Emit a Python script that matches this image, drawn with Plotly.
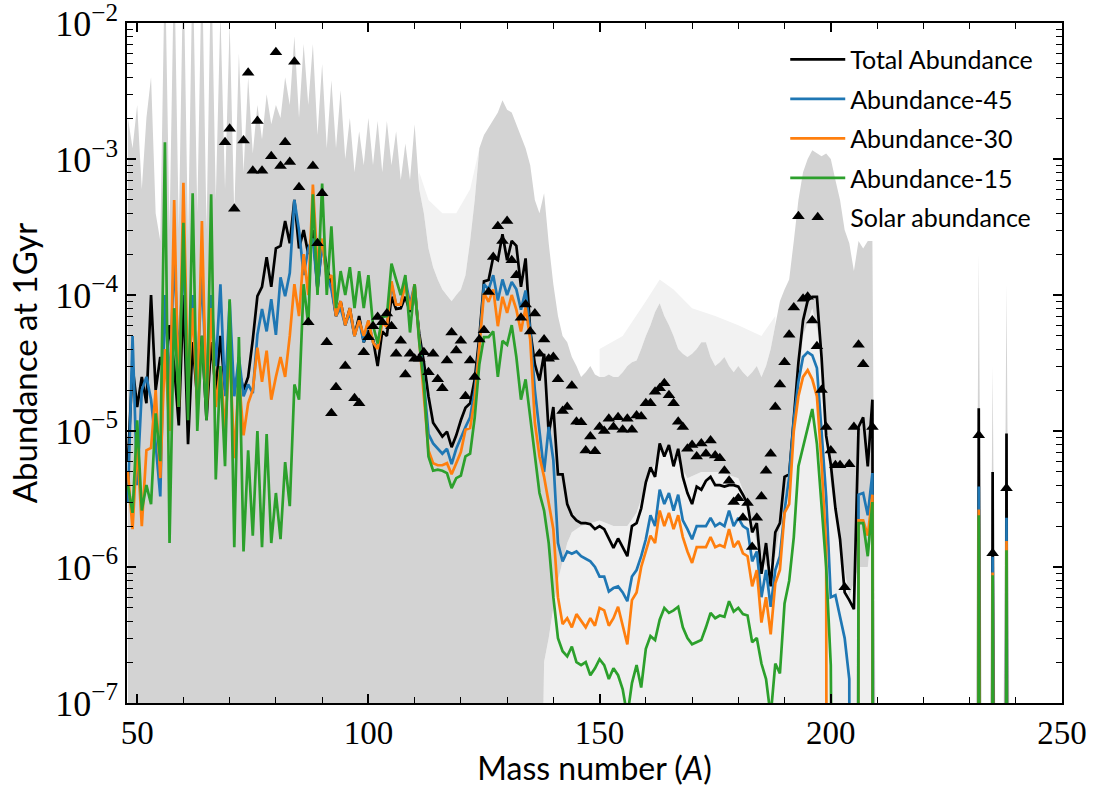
import plotly.graph_objects as go

# ---------------- data ----------------
mass_number = list(range(48, 210)) + [210, 231, 232, 233, 234, 235, 236, 237, 238, 239]

total_abundance = [
    6e-6, 3e-5, 1.5e-5, 2.5e-5, 1.6e-5, 1.0e-4, 2.0e-5, 3.5e-5, 2.5e-5, 6e-5,
    3.0e-5, 1.1e-5, 1.0e-4, 8e-6, 4.5e-5, 1.7e-5, 5e-5, 1.2e-5, 4.5e-5, 2.0e-5,
    5e-5, 2e-5, 4e-5, 2e-5, 2.8e-5, 2.0e-5, 2.5e-5, 4.7e-5, 9.8e-5, 1.15e-4,
    1.9e-4, 1.15e-4, 2.2e-4, 2.3e-4, 3.5e-4, 2.4e-4, 5.0e-4, 2.2e-4, 3.0e-4, 2.0e-4,
    3.0e-4, 1.1e-4, 2.5e-4, 1.6e-4, 1.2e-4, 7e-5, 9e-5, 6e-5, 8e-5, 5e-5,
    7e-5, 4.5e-5, 5.5e-5, 4.7e-5, 3.0e-5, 5.4e-5, 5.0e-5, 9.7e-5, 7.9e-5, 8.0e-5,
    9.7e-5, 7.5e-5, 1.08e-4, 5.2e-5, 3.2e-5, 1.8e-5, 1.15e-5, 1.02e-5, 9.1e-6, 9.9e-6,
    7.6e-6, 9.3e-6, 1.2e-5, 1.48e-5, 1.6e-5, 2.4e-5, 4.9e-5, 1.26e-4, 1.29e-4, 1.9e-4,
    1.8e-4, 2.8e-4, 1.8e-4, 2.5e-4, 2.3e-4, 1.15e-4, 1.86e-4, 5.5e-5, 3.1e-5, 2.35e-5,
    3.7e-5, 9.5e-6, 1.5e-5, 4.8e-6, 4.8e-6, 2.9e-6, 2.4e-6, 2.2e-6, 2.1e-6, 2.1e-6,
    2.06e-6, 1.9e-6, 2.0e-6, 1.9e-6, 1.6e-6, 1.38e-6, 1.62e-6, 1.4e-6, 1.2e-6, 2.0e-6,
    2.1e-6, 2.7e-6, 4.2e-6, 5.4e-6, 4.6e-6, 8.1e-6, 6.5e-6, 7.9e-6, 5.5e-6, 7.4e-6,
    4.6e-6, 3.5e-6, 2.9e-6, 3.9e-6, 3.7e-6, 4.3e-6, 4.6e-6, 4.0e-6, 4.0e-6, 3.9e-6,
    4.0e-6, 4.0e-6, 3.9e-6, 3.4e-6, 2.9e-6, 1.8e-6, 2.1e-6, 8.9e-7, 1.5e-6, 7.2e-7,
    1.8e-6, 2.1e-6, 4.6e-6, 4.8e-6, 1.3e-5, 3.2e-5, 6.5e-5, 9.1e-5, 9.7e-5, 9.7e-5,
    3.5e-5, 9.2e-6, 5.7e-6, 2.7e-6, 1.6e-6, 6.5e-7, 5.7e-7, 4.9e-7, 1.07e-5, 1.26e-5,
    5.5e-6, 1.7e-5,
    0, 0, 1.47e-5, 0, 0, 5.0e-6, 0, 0, 9.6e-6, 0,
]

abundance_45 = [
    3e-6, 5e-5, 4e-6, 2.0e-5, 2.5e-5, 1.7e-5, 8e-6, 3.3e-6, 1.0e-4, 2e-5,
    2.0e-4, 3.0e-5, 2.0e-4, 2.0e-5, 1.0e-4, 2.5e-5, 1.5e-4, 2.0e-5, 1.0e-4, 3e-5,
    1.2e-4, 1.8e-5, 9e-5, 1.8e-5, 3.5e-5, 1.8e-5, 2.2e-5, 1.9e-5, 5.1e-5, 7.9e-5,
    5.4e-5, 9.3e-5, 5.1e-5, 1.35e-4, 9.8e-5, 1.45e-4, 5.0e-4, 3.0e-4, 1.4e-4, 2.2e-4,
    2.6e-4, 1.1e-4, 2.4e-4, 1.4e-4, 1.1e-4, 7e-5, 8e-5, 6e-5, 7.5e-5, 5e-5,
    6.5e-5, 4.5e-5, 6.5e-5, 4.5e-5, 4.1e-5, 6.6e-5, 6.0e-5, 1.2e-4, 8.5e-5, 8.5e-5,
    1.3e-4, 8.5e-5, 1.2e-4, 4.8e-5, 2.3e-5, 9.5e-6, 8.1e-6, 7.4e-6, 6.8e-6, 7.4e-6,
    5.7e-6, 7.4e-6, 9e-6, 1.07e-5, 1.26e-5, 2e-5, 4.4e-5, 1.2e-4, 1.1e-4, 1.4e-4,
    9.1e-5, 1.3e-4, 1.0e-4, 1.25e-4, 1.1e-4, 7.8e-5, 1.08e-4, 5.5e-5, 2e-5, 1.02e-5,
    5e-6, 1.07e-5, 6.1e-6, 1.5e-6, 1.1e-6, 1.3e-6, 1.25e-6, 1.3e-6, 1.2e-6, 1.15e-6,
    1.1e-6, 1.0e-6, 8.5e-7, 8.5e-7, 6.6e-7, 7e-7, 7.2e-7, 6.5e-7, 5.6e-7, 8.5e-7,
    9.5e-7, 1.2e-6, 1.6e-6, 2.4e-6, 2.0e-6, 3.7e-6, 2.9e-6, 3.5e-6, 2.6e-6, 3.4e-6,
    2.2e-6, 1.9e-6, 1.6e-6, 2.0e-6, 2.0e-6, 2.0e-6, 2.3e-6, 2.0e-6, 2.1e-6, 2.0e-6,
    2.6e-6, 2.0e-6, 2.3e-6, 2.0e-6, 1.9e-6, 1.1e-6, 1.3e-6, 6e-7, 9.5e-7, 5.1e-7,
    9.5e-7, 1.2e-6, 2.6e-6, 4.6e-6, 1.2e-5, 2.3e-5, 3.5e-5, 3.8e-5, 3.6e-5, 2.9e-5,
    1.0e-5, 3.3e-6, 6e-7, 6.2e-7, 4.3e-7, 3e-7, 1.5e-7, 0, 3.4e-6, 3.5e-6,
    2.4e-6, 4.9e-6,
    0, 0, 3.9e-6, 0, 0, 1.19e-6, 0, 0, 2.3e-6, 0,
]

abundance_30 = [
    5e-6, 1.9e-6, 8e-6, 2e-6, 7.2e-6, 7.5e-6, 2e-5, 4.5e-6, 4e-5, 1e-5,
    5.0e-4, 1.5e-5, 6.7e-4, 2e-5, 8e-5, 1.5e-5, 3.5e-4, 1.4e-5, 8e-5, 1.5e-5,
    3e-5, 1e-5, 4e-5, 6.3e-6, 2.5e-5, 9.3e-6, 1.6e-5, 2.0e-5, 4.1e-5, 2.3e-5,
    3.9e-5, 1.7e-5, 2.5e-5, 3.5e-5, 2.5e-5, 5e-5, 1.2e-4, 7e-5, 2.0e-4, 1.0e-4,
    6.5e-4, 1.6e-4, 2.6e-4, 1.3e-4, 1.4e-4, 7e-5, 9e-5, 6e-5, 8e-5, 5e-5,
    6.5e-5, 5e-5, 6.5e-5, 4.5e-5, 4e-5, 6.3e-5, 5.8e-5, 1.26e-4, 8.5e-5, 8.5e-5,
    1.2e-4, 7.8e-5, 1.2e-4, 4.4e-5, 1.8e-5, 7.2e-6, 5.8e-6, 5.6e-6, 5.6e-6, 5.8e-6,
    4.8e-6, 5.8e-6, 7.0e-6, 1.02e-5, 1.05e-5, 1.7e-5, 4.0e-5, 1.03e-4, 8.9e-5, 1.1e-4,
    5.9e-5, 9.7e-5, 7.4e-5, 1.0e-4, 7.8e-5, 5.4e-5, 8.1e-5, 4.7e-5, 1.15e-5, 6.5e-6,
    4.6e-6, 3e-6, 1.9e-6, 6e-7, 3.8e-7, 4.2e-7, 3.6e-7, 4.5e-7, 4e-7, 3.6e-7,
    4.2e-7, 3.7e-7, 5e-7, 4.8e-7, 3.7e-7, 4.2e-7, 5.1e-7, 3.8e-7, 2.7e-7, 5.7e-7,
    6.5e-7, 1.0e-6, 1.3e-6, 1.7e-6, 1.5e-6, 2.6e-6, 2.0e-6, 2.5e-6, 1.9e-6, 2.4e-6,
    1.66e-6, 1.3e-6, 1.07e-6, 1.4e-6, 1.4e-6, 1.4e-6, 1.66e-6, 1.4e-6, 1.45e-6, 1.4e-6,
    1.9e-6, 1.4e-6, 1.55e-6, 1.26e-6, 1.2e-6, 7.2e-7, 9.5e-7, 3.9e-7, 6e-7, 3.2e-7,
    7.6e-7, 9.5e-7, 2.5e-6, 2.9e-6, 1.0e-5, 1.8e-5, 2.5e-5, 2.8e-5, 2.4e-5, 1.8e-5,
    5.8e-6, 1.4e-6, 0, 0, 0, 0, 0, 0, 2.2e-6, 2.2e-6,
    1.7e-6, 3.4e-6,
    0, 0, 2.65e-6, 0, 0, 9.1e-7, 0, 0, 1.55e-6, 0,
]

abundance_15 = [
    4e-6, 2.5e-6, 1.2e-5, 2.6e-6, 4e-6, 2.9e-6, 1.35e-5, 6e-6, 1.33e-3, 1.5e-6,
    8e-5, 1.5e-5, 3.4e-4, 1.2e-5, 5.6e-4, 1e-5, 5e-5, 1.2e-5, 5.5e-4, 4.4e-6,
    3e-5, 5.5e-6, 9.3e-5, 1.4e-6, 4.9e-5, 1.3e-6, 7.2e-6, 1.7e-6, 1.0e-5, 1.4e-6,
    9.5e-6, 1.5e-6, 3.5e-6, 1.6e-6, 5.9e-6, 2.8e-6, 2.2e-5, 1.7e-5, 1.2e-4, 6e-5,
    5.5e-4, 1.0e-4, 6.6e-4, 1.0e-4, 3.2e-4, 8e-5, 1.5e-4, 1.0e-4, 1.6e-4, 8e-5,
    1.5e-4, 8e-5, 1.4e-4, 6e-5, 4.4e-5, 6.9e-5, 7e-5, 1.7e-4, 1.3e-4, 1.0e-4,
    1.4e-4, 5.3e-5, 1.2e-4, 4.5e-5, 2.2e-5, 6.5e-6, 5.1e-6, 5.2e-6, 5.1e-6, 4.9e-6,
    3.8e-6, 4.5e-6, 4.7e-6, 6.5e-6, 6.8e-6, 1.26e-5, 3.1e-5, 4.9e-5, 4.9e-5, 5.4e-5,
    2.5e-5, 4.6e-5, 4.3e-5, 6.0e-5, 3.5e-5, 1.7e-5, 2.4e-5, 1.26e-5, 6.5e-6, 3.5e-6,
    2.6e-6, 1.5e-6, 6e-7, 3e-7, 2.4e-7, 2.2e-7, 2.6e-7, 2e-7, 1.9e-7, 2e-7,
    1.6e-7, 1.8e-7, 2.1e-7, 1.9e-7, 1.5e-7, 1.8e-7, 1.6e-7, 1.26e-7, 8e-8, 1.4e-7,
    1.9e-7, 1.3e-7, 2.5e-7, 3.1e-7, 2.9e-7, 4.1e-7, 5.0e-7, 4.6e-7, 4.8e-7, 5.1e-7,
    3.6e-7, 3.0e-7, 2.7e-7, 2.8e-7, 2.9e-7, 3.6e-7, 4.6e-7, 4.2e-7, 4.4e-7, 4.3e-7,
    5.6e-7, 4.7e-7, 5.0e-7, 4.5e-7, 4.4e-7, 2.8e-7, 3.0e-7, 1.95e-7, 1.5e-7, 8e-8,
    1.95e-7, 1.65e-7, 5.4e-7, 7.9e-7, 1.66e-6, 5.5e-6, 7.6e-6, 1.0e-5, 1.45e-5, 8e-6,
    2.6e-6, 1.0e-6, 1.9e-7, 0, 0, 0, 0, 0, 2.1e-6, 2.1e-6,
    1.2e-6, 3.0e-6,
    0, 0, 2.4e-6, 0, 0, 8.7e-7, 0, 0, 1.33e-6, 0,
]

solar_A = [69, 70, 71, 73, 74, 75, 76, 77, 79, 80, 81, 82, 83, 84, 85, 87, 88, 89, 90, 91,
           92, 93, 95, 97, 98, 99, 100, 101, 102, 103, 104, 105, 106, 107, 108, 109, 110, 111, 112, 113,
           114, 115, 116, 117, 118, 119, 120, 121, 122, 123, 124, 125, 126, 127, 128, 129, 130, 131, 132, 133,
           134, 135, 136, 137, 138, 139, 140, 141, 142, 143, 144, 145, 146, 147, 148, 149, 150, 151, 152, 153,
           154, 155, 156, 157, 158, 159, 160, 161, 162, 163, 164, 165, 166, 167, 168, 169, 170, 171, 172, 173,
           174, 175, 176, 177, 178, 179, 180, 181, 182, 183, 184, 185, 186, 187, 188, 189, 190, 191, 192, 193,
           194, 195, 196, 197, 198, 199, 200, 201, 202, 203, 204, 205, 206, 207, 209, 232, 235, 238]
solar_abundance = [
    1.33e-3, 1.67e-3, 4.3e-4, 1.37e-3, 4.3e-3, 8.2e-4, 1.9e-3, 8.2e-4, 1.05e-3, 6.1e-3,
    8.9e-4, 1.33e-3, 9.5e-4, 5.2e-3, 6.2e-4, 6.3e-5, 8.9e-4, 2.4e-4, 5.6e-4, 4.5e-5,
    1.35e-5, 2.1e-5, 3.0e-5, 1.74e-5, 1.6e-5, 3.8e-5, 4.9e-5, 5.9e-5, 6.9e-5, 6.3e-5,
    7.3e-5, 5.9e-5, 3.7e-5, 4.6e-5, 2.6e-5, 3.7e-5, 3.4e-5, 3.4e-5, 3.8e-5, 2.7e-5,
    3.7e-5, 2.4e-5, 2.06e-5, 3.3e-5, 5.3e-5, 3.9e-5, 4.6e-5, 1.8e-5, 3.3e-5, 2.5e-5,
    4.7e-5, 5.5e-5, 1.05e-4, 1.9e-4, 3.2e-4, 2.5e-4, 3.5e-4, 1.8e-4, 1.4e-4, 6.8e-5,
    8.5e-5, 5.4e-5, 7.3e-5, 3.7e-5, 4.7e-5, 3.4e-5, 3.5e-5, 2.4e-5, 1.4e-5, 1.5e-5,
    2.15e-5, 1.17e-5, 1.16e-5, 7.2e-6, 9.1e-6, 7.1e-6, 1.07e-5, 1.0e-5, 1.23e-5, 1.07e-5,
    1.26e-5, 1.02e-5, 1.23e-5, 1.02e-5, 1.3e-5, 1.28e-5, 1.6e-5, 1.6e-5, 1.94e-5, 2.06e-5,
    2.24e-5, 1.83e-5, 1.6e-5, 1.17e-5, 1.07e-5, 7.4e-6, 7.9e-6, 6.5e-6, 8.1e-6, 6.8e-6,
    8.5e-6, 6.6e-6, 6.3e-6, 5.1e-6, 4.3e-6, 3.0e-6, 3.2e-6, 2.3e-6, 2.95e-6, 1.4e-6,
    2.3e-6, 3.3e-6, 5.1e-6, 6.8e-6, 1.5e-5, 2.2e-5, 3.2e-5, 5.1e-5, 8.1e-5, 3.8e-4,
    9.4e-5, 9.7e-5, 6.5e-5, 4.2e-5, 2.0e-5, 1.07e-5, 7.2e-6, 5.6e-6, 5.6e-6, 7.1e-7,
    5.7e-6, 1.07e-5, 4.3e-5, 3.1e-5, 1.07e-5, 9.3e-6, 1.26e-6, 3.8e-6,
]

# envelope of the individual (grey) runs: upper edge on mass_number, lower edge on its own grid
runs_upper = [
    2e-3, 1.2e-3, 2.5e-3, 6e-4, 2e-3, 4e-3, 4e-4, 2.5e-4, 3e-2, 3e-4,
    3e-2, 3e-4, 3e-2, 2.5e-4, 3e-2, 4e-4, 3e-2, 3e-4, 3e-2, 5e-4,
    1.2e-2, 6e-4, 1e-2, 4e-4, 6e-3, 8e-4, 4e-3, 1.1e-3, 2.5e-3, 1.4e-3,
    3e-3, 1.8e-3, 2.5e-3, 2e-3, 4e-3, 2.5e-3, 8e-3, 2e-3, 7e-3, 2.5e-3,
    7e-3, 1.5e-3, 5e-3, 1.2e-3, 3.8e-3, 1.2e-3, 3.2e-3, 1e-3, 2e-3, 8e-4,
    1.6e-3, 9e-4, 2e-3, 9e-4, 1.9e-3, 8e-4, 1.9e-3, 9e-4, 1.6e-3, 7e-4,
    1.3e-3, 7e-4, 1.8e-3, 6e-4, 4e-4, 2.2e-4, 1.6e-4, 1.3e-4, 1.1e-4, 1e-4,
    9e-5, 1e-4, 1.1e-4, 1.4e-4, 2.5e-4, 5e-4, 1.2e-3, 1.5e-3, 1.7e-3, 1.9e-3,
    2.2e-3, 2.7e-3, 2.3e-3, 2.2e-3, 1.8e-3, 1.5e-3, 1.2e-3, 9e-4, 5e-4, 4e-4,
    5.6e-4, 2.4e-4, 1.2e-4, 7e-5, 5e-5, 4.5e-5, 3.5e-5, 3e-5, 2.5e-5, 2.7e-5,
    3e-5, 2.6e-5, 2.5e-5, 2.5e-5, 2.6e-5, 2.5e-5, 2.5e-5, 2.7e-5, 3e-5, 3.2e-5,
    3.3e-5, 4e-5, 5e-5, 6e-5, 7.5e-5, 8.7e-5, 7e-5, 6e-5, 5e-5, 4e-5,
    3.7e-5, 3.5e-5, 3.7e-5, 4e-5, 4.5e-5, 4.5e-5, 3.5e-5, 3e-5, 3.2e-5, 3.5e-5,
    3e-5, 2.7e-5, 3e-5, 2.7e-5, 2.5e-5, 2.7e-5, 3e-5, 2.5e-5, 3e-5, 4e-5,
    6e-5, 9e-5, 1.1e-4, 1.3e-4, 2.5e-4, 5e-4, 8e-4, 1e-3, 1.16e-3, 1.1e-3,
    1.05e-3, 1.1e-3, 1e-3, 7e-4, 5e-4, 3e-4, 2.4e-4, 1.5e-4, 2.5e-4, 2.2e-4,
    2.5e-4, 2.5e-4,
    0, 0, 2e-4, 0, 0, 3e-5, 0, 0, 1.2e-4, 0,
]
runs_lower_A = [48, 137, 138, 139, 140, 141, 142, 143, 144, 146, 150, 153, 156, 158, 160, 163,
                165, 167, 169, 172, 176, 180, 182, 184, 186, 188, 190, 192, 194, 196, 198, 199,
                200, 202, 204, 206, 208, 209, 210, 239]
runs_lower = [0, 0, 2e-7, 3e-7, 5e-7, 8e-7, 1.1e-6, 1.5e-6, 1.8e-6, 2e-6, 2.2e-6, 2e-6, 2e-6, 2.5e-6,
              4e-6, 7e-6, 7e-6, 6e-6, 4.5e-6, 5e-6, 5e-6, 4.5e-6, 3e-6, 1.5e-6, 1e-6, 1.2e-6, 3e-6,
              1e-5, 5e-5, 8e-5, 4e-5, 1e-5, 4e-6, 1.5e-6, 6e-7, 1e-6, 1e-6, 2e-6, 0, 0]
# sparse runs above the dense band
sparse_A = [111, 113, 116, 119, 122, 124, 150, 155, 160, 163, 166, 170, 175, 180, 185, 188]
sparse_upper = [8e-4, 5e-4, 4e-4, 4e-4, 6e-4, 1.2e-3, 4e-5, 5e-5, 9e-5, 1.3e-4, 1.1e-4,
                8e-5, 7e-5, 6e-5, 5e-5, 7e-5]

n = len(mass_number)
for arr in (total_abundance, abundance_45, abundance_30, abundance_15, runs_upper):
    assert len(arr) == n, (len(arr), n)
assert len(solar_A) == len(solar_abundance)
assert len(runs_lower_A) == len(runs_lower)
assert len(sparse_A) == len(sparse_upper)

FLOOR = 1e-30       # zero abundance -> clipped far below the axis
BAND_FLOOR = 1e-9   # zero for the grey envelope (gives the spikes some width)


def pos(v, floor=FLOOR):
    return [x if x > 0 else floor for x in v]


fig = go.Figure()

# sparse runs above the dense band (two separate pieces)
for lo, hi in ((111, 124), (150, 188)):
    top_A = [a for a in sparse_A if lo <= a <= hi]
    top_y = [v for a, v in zip(sparse_A, sparse_upper) if lo <= a <= hi]
    bot_A = [a for a in mass_number if lo <= a <= hi]
    bot_y = [v for a, v in zip(mass_number, runs_upper) if lo <= a <= hi]
    fig.add_trace(go.Scatter(
        x=top_A + bot_A[::-1], y=top_y + bot_y[::-1],
        fill='toself', fillcolor='#f2f2f2', mode='lines', line=dict(width=0),
        hoverinfo='skip', showlegend=False))

# faint region below the dense band (few runs)
faint_A = [a for a in runs_lower_A if a >= 137]
faint_y = [v for a, v in zip(runs_lower_A, runs_lower) if a >= 137]
fig.add_trace(go.Scatter(
    x=faint_A + faint_A[::-1], y=pos(faint_y, BAND_FLOOR) + [BAND_FLOOR] * len(faint_A),
    fill='toself', fillcolor='#efefef', mode='lines', line=dict(width=0),
    hoverinfo='skip', showlegend=False))

# dense grey band of individual runs
fig.add_trace(go.Scatter(
    x=mass_number + runs_lower_A[::-1],
    y=pos(runs_upper, BAND_FLOOR) + pos(runs_lower, BAND_FLOOR)[::-1],
    fill='toself', fillcolor='#d3d3d3', mode='lines', line=dict(width=0),
    hoverinfo='skip', showlegend=False))

series = [
    ('Total Abundance', total_abundance, 'black'),
    ('Abundance-45', abundance_45, '#1f77b4'),
    ('Abundance-30', abundance_30, '#ff7f0e'),
    ('Abundance-15', abundance_15, '#2ca02c'),
]
for i, (name, vals, col) in enumerate(series):
    fig.add_trace(go.Scatter(x=mass_number, y=pos(vals), mode='lines', name=name,
                             line=dict(color=col, width=2.7), legendgroup=f'g{i}'))

fig.add_trace(go.Scatter(x=solar_A, y=solar_abundance, mode='markers', name='Solar abundance',
                         marker=dict(symbol='triangle-up', size=11, color='black'),
                         legendgroup='g9'))

sans = 'Lato'
serif = 'Liberation Serif'
y_major = [1e-7, 1e-6, 1e-5, 1e-4, 1e-3, 1e-2]
y_text = ['10<sup>−7</sup>', '10<sup>−6</sup>', '10<sup>−5</sup>', '10<sup>−4</sup>',
          '10<sup>−3</sup>', '10<sup>−2</sup>']
y_minor = [k * 10.0 ** e for e in range(-7, -2) for k in range(2, 10)]
x_major = [50, 100, 150, 200, 250]
x_minor = [v for v in range(50, 251, 10) if v not in x_major]

fig.update_layout(
    width=1098, height=787,
    margin=dict(l=127, r=36, t=23, b=84),
    paper_bgcolor='white', plot_bgcolor='white',
    legend=dict(x=0.704, y=0.98, xanchor='left', yanchor='top', bgcolor='rgba(0,0,0,0)',
                font=dict(family=sans, size=25, color='black'), tracegroupgap=4, itemwidth=55),
    showlegend=True,
)
fig.update_xaxes(
    range=[47.8, 250.001], tickmode='array', tickvals=x_major, ticks='inside', ticklen=9, tickwidth=1.8,
    tickcolor='black', showline=True, linecolor='black', linewidth=1.5, mirror='allticks',
    showgrid=False, zeroline=False, automargin=False, ticklabeloverflow='allow',
    tickfont=dict(family=serif, size=33, color='black'),
    minor=dict(tickmode='array', tickvals=x_minor, ticks='inside', ticklen=6, tickwidth=1.2,
               tickcolor='black', showgrid=False),
    title=dict(text="Mass number (<i>A</i>)", font=dict(family=sans, size=32, color='black'), standoff=9),
)
fig.update_yaxes(
    type='log', range=[-7.0002, -1.9998], tickmode='array', tickvals=y_major, ticktext=y_text,
    ticks='inside', ticklen=9, tickwidth=1.8, tickcolor='black',
    showline=True, linecolor='black', linewidth=1.5, mirror='allticks',
    showgrid=False, zeroline=False, automargin=False, ticklabeloverflow='allow',
    tickfont=dict(family=serif, size=36, color='black'),
    minor=dict(tickmode='array', tickvals=y_minor, ticks='inside', ticklen=6, tickwidth=1.2,
               tickcolor='black', showgrid=False),
    title=dict(text='Abundance at 1Gyr', font=dict(family=sans, size=33, color='black'), standoff=8),
)

fig.write_html('out.html')
